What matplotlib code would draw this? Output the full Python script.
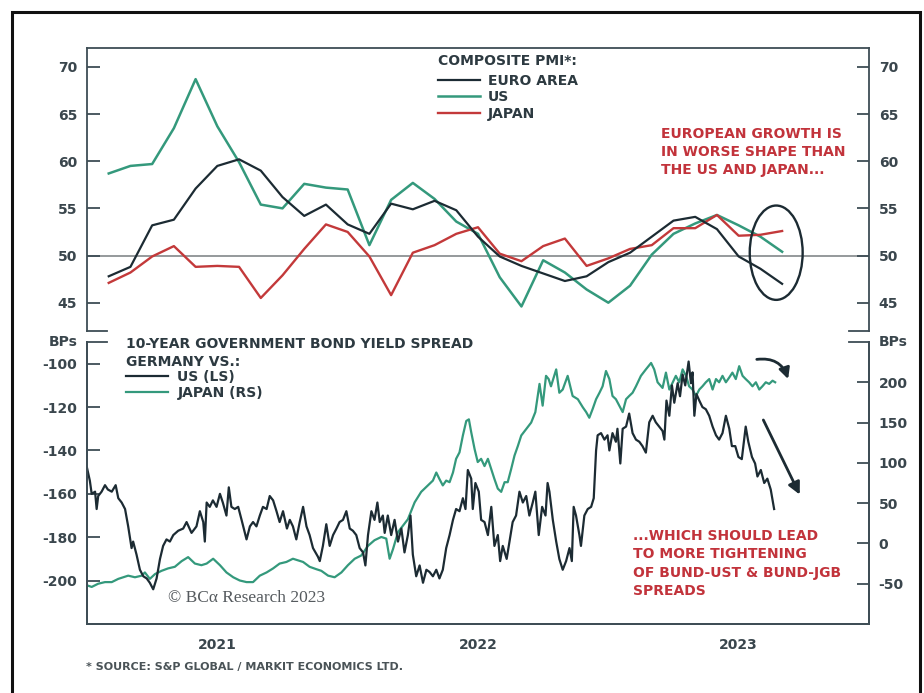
import numpy as np
import matplotlib.pyplot as plt
from matplotlib.patches import Ellipse, FancyArrowPatch, Rectangle
from matplotlib.lines import Line2D

# ======== composite PMI, monthly, Jan 2021 - Aug 2023 ========#
pmi_euro = [47.8, 48.8, 53.2, 53.8, 57.1, 59.5, 60.2, 59.0, 56.2, 54.2, 55.4, 53.3,
            52.3, 55.5, 54.9, 55.8, 54.8, 52.0, 49.9, 48.9, 48.1, 47.3, 47.8, 49.3,
            50.3, 52.0, 53.7, 54.1, 52.8, 49.9, 48.6, 47.0]
pmi_us = [58.7, 59.5, 59.7, 63.5, 68.7, 63.7, 59.9, 55.4, 55.0, 57.6, 57.2, 57.0,
          51.1, 55.9, 57.7, 56.0, 53.6, 52.3, 47.7, 44.6, 49.5, 48.2, 46.4, 45.0,
          46.8, 50.1, 52.3, 53.4, 54.3, 53.2, 52.0, 50.4]
pmi_japan = [47.1, 48.2, 49.9, 51.0, 48.8, 48.9, 48.8, 45.5, 47.9, 50.7, 53.3, 52.5,
             49.9, 45.8, 50.3, 51.1, 52.3, 53.0, 50.2, 49.4, 51.0, 51.8, 48.9, 49.7,
             50.7, 51.1, 52.9, 52.9, 54.3, 52.1, 52.2, 52.6]
# month-end positions in decimal years
pmi_t = 2021 + (np.arange(len(pmi_euro)) + 1) / 12.0

# ======== 10y bund spreads (bps), decimal years ========#
us_t = [2021.000, 2021.011, 2021.018, 2021.031, 2021.037, 2021.043, 2021.056, 2021.069,
        2021.080, 2021.095, 2021.110, 2021.120, 2021.133, 2021.146, 2021.158, 2021.171,
        2021.177, 2021.190, 2021.203, 2021.216, 2021.229, 2021.241, 2021.254, 2021.267,
        2021.280, 2021.292, 2021.305, 2021.318, 2021.331, 2021.350, 2021.369, 2021.382,
        2021.401, 2021.420, 2021.433, 2021.446, 2021.452, 2021.459, 2021.471, 2021.483,
        2021.497, 2021.510, 2021.521, 2021.535, 2021.544, 2021.554, 2021.567, 2021.580,
        2021.593, 2021.612, 2021.625, 2021.637, 2021.650, 2021.663, 2021.675, 2021.689,
        2021.701, 2021.714, 2021.727, 2021.739, 2021.752, 2021.767, 2021.778, 2021.790,
        2021.803, 2021.816, 2021.829, 2021.842, 2021.854, 2021.867, 2021.886, 2021.893,
        2021.905, 2021.918, 2021.931, 2021.944, 2021.957, 2021.969, 2021.982, 2021.995,
        2022.008, 2022.020, 2022.033, 2022.046, 2022.059, 2022.068, 2022.078, 2022.091,
        2022.103, 2022.114, 2022.123, 2022.135, 2022.142, 2022.154, 2022.167, 2022.180,
        2022.193, 2022.206, 2022.218, 2022.231, 2022.241, 2022.250, 2022.263, 2022.276,
        2022.289, 2022.302, 2022.314, 2022.327, 2022.340, 2022.352, 2022.365, 2022.378,
        2022.391, 2022.404, 2022.416, 2022.429, 2022.442, 2022.452, 2022.461, 2022.474,
        2022.480, 2022.490, 2022.503, 2022.512, 2022.525, 2022.538, 2022.551, 2022.563,
        2022.576, 2022.585, 2022.595, 2022.610, 2022.621, 2022.633, 2022.646, 2022.659,
        2022.672, 2022.685, 2022.697, 2022.710, 2022.720, 2022.733, 2022.746, 2022.759,
        2022.767, 2022.774, 2022.787, 2022.800, 2022.812, 2022.825, 2022.838, 2022.851,
        2022.860, 2022.867, 2022.876, 2022.889, 2022.895, 2022.908, 2022.921, 2022.934,
        2022.944, 2022.953, 2022.959, 2022.972, 2022.985, 2022.997, 2023.004, 2023.016,
        2023.029, 2023.035, 2023.046, 2023.055, 2023.068, 2023.080, 2023.093, 2023.106,
        2023.119, 2023.131, 2023.144, 2023.157, 2023.170, 2023.182, 2023.195, 2023.208,
        2023.215, 2023.223, 2023.234, 2023.244, 2023.253, 2023.266, 2023.275, 2023.285,
        2023.295, 2023.308, 2023.317, 2023.323, 2023.330, 2023.338, 2023.349, 2023.361,
        2023.374, 2023.387, 2023.400, 2023.413, 2023.425, 2023.438, 2023.451, 2023.464,
        2023.474, 2023.487, 2023.499, 2023.512, 2023.527, 2023.537, 2023.551, 2023.563,
        2023.572, 2023.585, 2023.598, 2023.610, 2023.623, 2023.636]
us_bp = [-148, -154, -160, -159, -167, -161, -159, -156,
         -158, -159, -156, -162, -164, -167, -175, -185,
         -182, -188, -195, -198, -199, -201, -204, -199,
         -190, -184, -181, -182, -179, -177, -176, -173,
         -178, -175, -168, -173, -182, -164, -166, -163,
         -166, -160, -164, -170, -157, -166, -167, -166,
         -172, -181, -175, -173, -175, -170, -166, -167,
         -161, -163, -168, -173, -168, -176, -172, -175,
         -181, -173, -166, -175, -179, -185, -189, -191,
         -184, -174, -184, -179, -176, -173, -172, -168,
         -176, -177, -179, -185, -187, -193, -179, -168,
         -172, -164, -173, -170, -178, -170, -179, -172,
         -182, -176, -187, -179, -170, -188, -198, -193,
         -201, -195, -196, -198, -195, -199, -195, -185,
         -179, -172, -167, -168, -162, -167, -149, -153,
         -167, -155, -159, -172, -173, -179, -166, -184,
         -179, -191, -184, -190, -182, -173, -170, -159,
         -164, -161, -170, -164, -159, -179, -166, -170,
         -155, -159, -172, -182, -190, -195, -191, -185,
         -191, -166, -170, -179, -184, -170, -167, -166,
         -162, -140, -133, -132, -135, -133, -140, -132,
         -136, -130, -146, -130, -129, -123, -132, -135,
         -136, -138, -141, -127, -124, -127, -129, -131,
         -135, -117, -124, -110, -118, -109, -115, -105,
         -110, -99, -109, -104, -124, -114, -117, -120,
         -121, -124, -129, -133, -135, -132, -124, -130,
         -138, -138, -143, -144, -129, -136, -143, -146,
         -152, -149, -155, -153, -158, -167]

jp_t = [2021.000, 2021.018, 2021.043, 2021.069, 2021.095, 2021.120, 2021.139, 2021.158,
        2021.184, 2021.210, 2021.222, 2021.241, 2021.261, 2021.286, 2021.311, 2021.337,
        2021.363, 2021.388, 2021.414, 2021.439, 2021.459, 2021.484, 2021.510, 2021.535,
        2021.561, 2021.586, 2021.612, 2021.637, 2021.663, 2021.689, 2021.714, 2021.739,
        2021.765, 2021.790, 2021.810, 2021.829, 2021.854, 2021.880, 2021.899, 2021.925,
        2021.950, 2021.976, 2022.001, 2022.027, 2022.052, 2022.078, 2022.103, 2022.129,
        2022.148, 2022.161, 2022.174, 2022.193, 2022.212, 2022.231, 2022.257, 2022.282,
        2022.308, 2022.327, 2022.340, 2022.352, 2022.365, 2022.378, 2022.391, 2022.404,
        2022.416, 2022.429, 2022.442, 2022.455, 2022.465, 2022.474, 2022.487, 2022.499,
        2022.512, 2022.525, 2022.538, 2022.551, 2022.563, 2022.576, 2022.589, 2022.602,
        2022.614, 2022.627, 2022.640, 2022.653, 2022.666, 2022.685, 2022.704, 2022.720,
        2022.736, 2022.748, 2022.761, 2022.771, 2022.780, 2022.800, 2022.812, 2022.825,
        2022.844, 2022.863, 2022.883, 2022.902, 2022.915, 2022.927, 2022.940, 2022.953,
        2022.966, 2022.978, 2022.991, 2023.004, 2023.016, 2023.029, 2023.042, 2023.055,
        2023.068, 2023.080, 2023.093, 2023.106, 2023.125, 2023.144, 2023.164, 2023.176,
        2023.189, 2023.208, 2023.221, 2023.234, 2023.247, 2023.259, 2023.272, 2023.285,
        2023.298, 2023.310, 2023.323, 2023.336, 2023.349, 2023.361, 2023.374, 2023.387,
        2023.400, 2023.413, 2023.425, 2023.438, 2023.451, 2023.464, 2023.476, 2023.489,
        2023.502, 2023.515, 2023.527, 2023.540, 2023.553, 2023.566, 2023.579, 2023.591,
        2023.604, 2023.617, 2023.630, 2023.640]
jp_bp = [-52, -54, -50, -48, -48, -44, -42, -40,
         -42, -40, -36, -44, -38, -34, -31, -29,
         -22, -17, -25, -27, -25, -19, -27, -36,
         -42, -46, -48, -48, -40, -36, -31, -25,
         -23, -19, -21, -23, -29, -32, -34, -40,
         -42, -36, -27, -19, -15, -3, 4, 8,
         6, -19, -7, 14, 22, 30, 51, 64,
         72, 78, 88, 80, 72, 78, 76, 88,
         105, 113, 134, 152, 154, 138, 117, 101,
         105, 96, 105, 92, 80, 68, 64, 76,
         76, 92, 109, 121, 134, 142, 150, 163,
         198, 171, 208, 204, 195, 216, 187, 191,
         208, 183, 179, 169, 163, 156, 167, 179,
         187, 195, 214, 204, 183, 179, 171, 163,
         179, 183, 187, 195, 208, 216, 224, 216,
         200, 193, 212, 191, 200, 208, 200, 216,
         208, 195, 191, 183, 191, 195, 200, 204,
         191, 204, 200, 208, 200, 206, 212, 204,
         220, 208, 204, 200, 195, 200, 191, 195,
         200, 198, 202, 200]

years = ['2021', '2022', '2023']

# ======== styling ========#
ink = '#1c2b33'
green = '#34997c'
red = '#c3393a'
txt_red = '#c2333b'
axc = '#3e4d55'
labc = '#3a464d'
legc = '#2d3a41'

plt.rcParams['font.family'] = 'DejaVu Sans'
plt.rcParams['font.weight'] = 'bold'
plt.rcParams['axes.unicode_minus'] = False

W, H = 924, 693
fig = plt.figure(figsize=(W / 100, H / 100), dpi=100)

def fx(px):
    return px / W

def fy(py):
    return 1 - py / H

ax_t = fig.add_axes([fx(87), fy(331), fx(869) - fx(87), fy(48) - fy(331)])
ax_b = fig.add_axes([fx(87), fy(624), fx(869) - fx(87), fy(342) - fy(624)])
ax_r = ax_b.twinx()

xlim = (2021.0, 2024.0)
for a in (ax_t, ax_b, ax_r):
    a.set_xlim(*xlim)
    for s in a.spines.values():
        s.set_color(axc)
        s.set_linewidth(1.3)

# ---- top panel: PMI ----
ax_t.axhline(50, color='#8c9193', lw=1.3, zorder=1)
ax_t.plot(pmi_t, pmi_euro, color=ink, lw=1.6, label='EURO AREA', zorder=3)
ax_t.plot(pmi_t, pmi_us, color=green, lw=1.8, label='US', zorder=2)
ax_t.plot(pmi_t, pmi_japan, color=red, lw=1.7, label='JAPAN', zorder=2)
ax_t.set_ylim(42, 72)
ax_t.set_yticks([45, 50, 55, 60, 65, 70])
ax_t.set_xticks([])
ax_t.spines['bottom'].set_visible(False)
ax_t.tick_params(axis='y', which='both', direction='in', length=9, width=1.3, color=axc,
                 left=True, right=True, labelleft=True, labelright=True,
                 labelsize=10, labelcolor=labc, pad=7)

# short stubs where the panels meet
stub = 20 / (869 - 87)
for x0 in (0, 1 - stub):
    ax_t.add_line(Line2D([x0, x0 + stub], [0, 0], transform=ax_t.transAxes,
                         color=axc, lw=1.3, clip_on=False))
    ax_b.add_line(Line2D([x0, x0 + stub], [1, 1], transform=ax_b.transAxes,
                         color=axc, lw=1.3, clip_on=False))

ax_t.add_patch(Ellipse((2023.644, 50.3), 0.203, 10.0, fill=False, ec=ink, lw=1.7, zorder=4))

leg = ax_t.legend(title='COMPOSITE PMI*:', loc='upper left',
                  bbox_to_anchor=(fx(438), fy(54)), bbox_transform=fig.transFigure,
                  frameon=False, fontsize=10, title_fontsize=10, alignment='left',
                  handlelength=3.0, handletextpad=0.6, labelspacing=0.18,
                  borderpad=0, borderaxespad=0)
for t in leg.get_texts():
    t.set_color(legc)
leg.get_title().set_color(legc)
leg.get_title().set_fontweight('bold')
leg._legend_box.sep = 4

fig.text(fx(661), fy(127), 'EUROPEAN GROWTH IS\nIN WORSE SHAPE THAN\nTHE US AND JAPAN...',
         color=txt_red, fontsize=10, va='top', ha='left', linespacing=1.38)

# ---- bottom panel: bund spreads ----
ax_r.plot(jp_t, jp_bp, color=green, lw=1.6, label='JAPAN (RS)')
ax_b.plot(us_t, us_bp, color=ink, lw=1.6, label='US (LS)')
ax_b.set_zorder(ax_r.get_zorder() + 1)
ax_b.patch.set_visible(False)

ax_b.set_ylim(-220, -90)
ax_r.set_ylim(-100, 250)
ax_b.set_yticks([-200, -180, -160, -140, -120, -100])
ax_r.set_yticks([-50, 0, 50, 100, 150, 200])
for a in (ax_b, ax_r):
    a.spines['top'].set_visible(False)
ax_b.tick_params(axis='y', direction='in', length=9, width=1.3, color=axc,
                 labelsize=10, labelcolor=labc, pad=7)
ax_r.tick_params(axis='y', direction='in', length=9, width=1.3, color=axc,
                 labelsize=10, labelcolor=labc, pad=7)

ax_b.set_xticks([2022, 2023])
ax_b.set_xticklabels([])
ax_b.set_xticks([2021.5, 2022.5, 2023.5], minor=True)
ax_b.set_xticklabels(years, minor=True)
ax_b.tick_params(axis='x', which='major', direction='in', length=10, width=1.3, color=axc)
ax_b.tick_params(axis='x', which='minor', length=0, labelsize=10, labelcolor=labc, pad=10)
ax_r.set_xticks([])

ax_b.text(-0.012, 1.0, 'BPs', transform=ax_b.transAxes, ha='right', va='center',
          fontsize=10, color=labc)
ax_r.text(1.012, 1.0, 'BPs', transform=ax_r.transAxes, ha='left', va='center',
          fontsize=10, color=labc)

h1, l1 = ax_b.get_legend_handles_labels()
h2, l2 = ax_r.get_legend_handles_labels()
leg2 = ax_b.legend(h1 + h2, l1 + l2, title='10-YEAR GOVERNMENT BOND YIELD SPREAD\nGERMANY VS.:',
                   loc='upper left', bbox_to_anchor=(fx(126), fy(337)),
                   bbox_transform=fig.transFigure, frameon=False, fontsize=10,
                   title_fontsize=10, alignment='left', handlelength=3.0,
                   handletextpad=0.7, labelspacing=0.1, borderpad=0, borderaxespad=0)
for t in leg2.get_texts():
    t.set_color(legc)
leg2.get_title().set_color(legc)
leg2.get_title().set_fontweight('bold')
leg2.get_title().set_linespacing(1.35)
leg2._legend_box.sep = 1

fig.text(fx(633), fy(529), '...WHICH SHOULD LEAD\nTO MORE TIGHTENING\nOF BUND-UST & BUND-JGB\nSPREADS',
         color=txt_red, fontsize=10, va='top', ha='left', linespacing=1.4)

fig.text(fx(168), fy(598), '\u00a9 BC\u03b1 Research 2023', family='Liberation Serif',
         fontweight='normal', fontsize=12.5, color='#555a5e', va='center', ha='left')

# arrows pointing at the turn in the spreads
ax_b.add_patch(FancyArrowPatch((2023.559, -98.2), (2023.693, -108.3),
                               connectionstyle='arc3,rad=-0.45', arrowstyle='-|>',
                               mutation_scale=16, lw=2.0, color=ink))
ax_b.add_patch(FancyArrowPatch((2023.590, -124.8), (2023.739, -161.5),
                               arrowstyle='-|>', mutation_scale=18, lw=2.0, color=ink))

fig.text(fx(86), fy(667), '* SOURCE: S&P GLOBAL / MARKIT ECONOMICS LTD.', fontsize=8,
         color='#4a5357', va='center', ha='left')

# outer frame
fig.patches.append(Rectangle((fx(12), -0.05), fx(920) - fx(12), fy(12) + 0.05,
                             transform=fig.transFigure, fill=False, ec='#111111', lw=2.2))

fig.savefig('out.png', dpi=100)
